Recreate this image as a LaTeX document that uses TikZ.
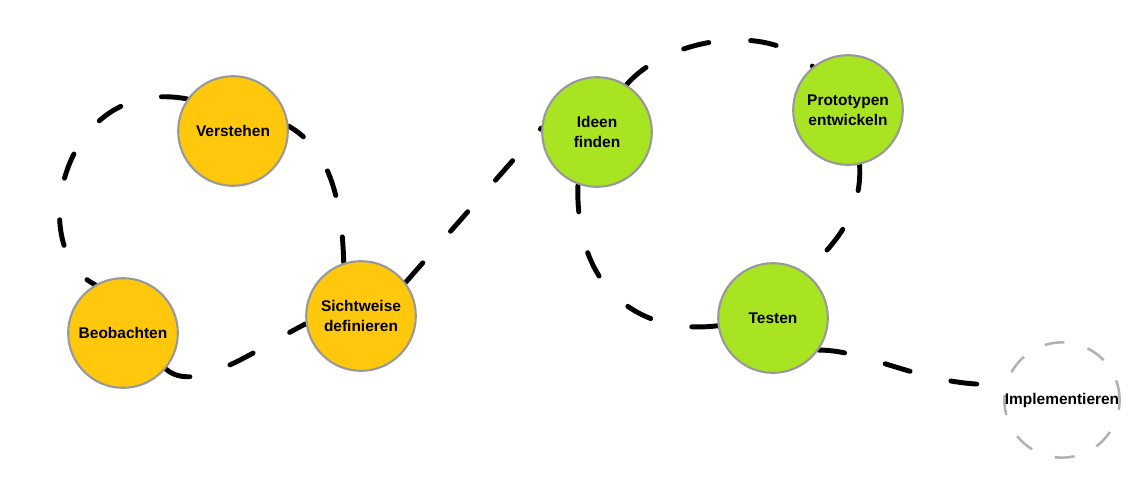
\documentclass[tikz,border=0pt]{standalone}
\usepackage{fontspec}
\setmainfont{Liberation Sans}
\usetikzlibrary{positioning,backgrounds}

\definecolor{stepyellow}{RGB}{255,200,12}
\definecolor{stepgreen}{RGB}{168,228,34}

\begin{document}
\begin{tikzpicture}[x=0.025cm,y=0.025cm]
\tikzstyle{every node}+=[inner sep=0pt, align=center, font=\bfseries\fontsize{11}{14}\selectfont]
\tikzstyle{phase}=[circle, minimum size=2.74cm, draw=gray!80, line width=1.5pt]
\tikzstyle{trail}=[black, line width=3.5pt, line cap=round, dash pattern=on 0.65cm off 1.05cm]
\useasboundingbox (0,0) rectangle (1143,-480);
\node [phase, fill=stepyellow] (ver) at (233,-131) {Verstehen};
\node [phase, fill=stepyellow] (beo) at (123,-333) {Beobachten};
\node [phase, fill=stepyellow] (sic) at (361,-316) {Sichtweise\\definieren};
\node [phase, fill=stepgreen] (ide) at (597,-132) {Ideen\\finden};
\node [phase, fill=stepgreen] (pro) at (848,-110) {Prototypen\\entwickeln};
\node [phase, fill=stepgreen] (tes) at (773,-318) {Testen};
\node [circle, minimum size=2.85cm, draw=gray!60, line width=1.8pt, dash pattern=on 0.5cm off 0.6cm] (imp) at (1062,-400) {Implementieren};
\begin{scope}[on background layer]
\draw [trail] (beo.-40) .. controls (195,-395) and (255,-350) .. (sic.188);
\draw [trail] (sic.108) .. controls (342,-200) and (330,-150) .. (ver.5);
\draw [trail] (ver.145) .. controls (60,-75) and (25,-250) .. (beo.120);
\draw [trail] (sic.37) -- (ide.176);
\draw [trail] (ide.58) .. controls (665,-40) and (765,-20) .. (pro.129);
\draw [trail] (pro.-78) .. controls (862,-210) and (840,-240) .. (tes.55);
\draw [trail] (tes.188) .. controls (640,-335) and (575,-290) .. (ide.-110);
\draw [trail] (tes.-35) .. controls (870,-350) and (930,-390) .. (imp.164);
\end{scope}
\end{tikzpicture}
\end{document}
